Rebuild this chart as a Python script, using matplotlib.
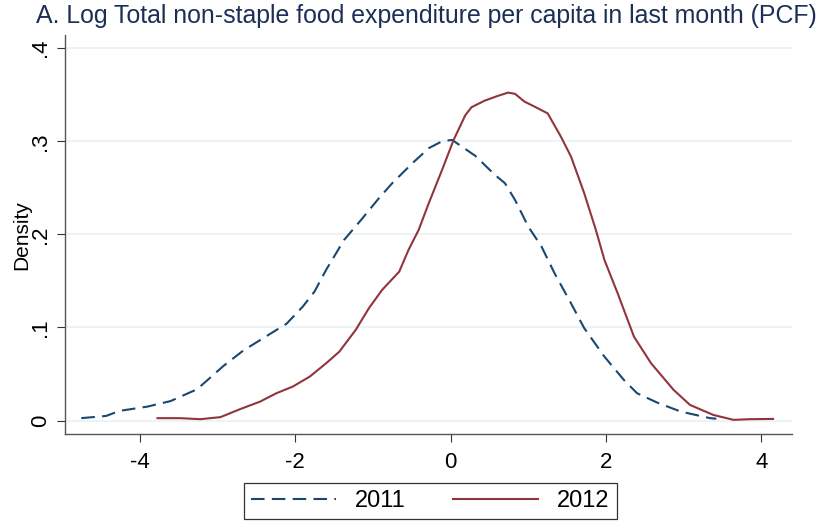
import matplotlib
matplotlib.use("Agg")
import matplotlib.pyplot as plt

# kernel density curves
x11 = [-4.75, -4.43, -4.26, -3.90, -3.60, -3.26, -2.92, -2.67, -2.39, -2.11,
       -1.90, -1.75, -1.60, -1.37, -1.15, -0.92, -0.75, -0.49, -0.28, -0.11,
       0.02, 0.32, 0.57, 0.70, 0.83, 1.00, 1.17, 1.34, 1.55, 1.72,
       1.98, 2.23, 2.40, 2.66, 2.96, 3.34, 3.42]
y11 = [0.0026, 0.005, 0.0104, 0.015, 0.021, 0.0337, 0.0588, 0.075, 0.0896, 0.104,
       0.1225, 0.1386, 0.162, 0.194, 0.2156, 0.239, 0.255, 0.2765, 0.2926, 0.300,
       0.3015, 0.2843, 0.264, 0.255, 0.237, 0.2084, 0.187, 0.158, 0.126, 0.0993,
       0.0687, 0.0437, 0.0294, 0.0193, 0.0097, 0.0026, 0.002]

x12 = [-3.77, -3.48, -3.22, -2.96, -2.71, -2.45, -2.24, -2.03, -1.81, -1.60,
       -1.43, -1.22, -1.05, -0.88, -0.66, -0.54, -0.41, -0.28, -0.11, 0.04,
       0.19, 0.27, 0.44, 0.61, 0.74, 0.83, 0.95, 1.08, 1.25, 1.42,
       1.55, 1.72, 1.87, 1.98, 2.15, 2.36, 2.58, 2.87, 3.08, 3.38,
       3.64, 3.85, 4.15]
y12 = [0.0026, 0.0026, 0.0015, 0.0037, 0.0122, 0.0204, 0.0294, 0.0365, 0.0473, 0.0616,
       0.0741, 0.0974, 0.1207, 0.1404, 0.160, 0.1834, 0.2048, 0.2335, 0.269, 0.3015,
       0.328, 0.3366, 0.3437, 0.3488, 0.3523, 0.351, 0.3427, 0.3373, 0.330, 0.305,
       0.2836, 0.2443, 0.2048, 0.1726, 0.1368, 0.0902, 0.0616, 0.033, 0.0169, 0.0061,
       0.0008, 0.0015, 0.0018]

xticks = [-4, -2, 0, 2, 4]
yticks = [0, 0.1, 0.2, 0.3, 0.4]
ytick_labels = ["0", ".1", ".2", ".3", ".4"]

plt.rcParams['font.family'] = ['Liberation Sans', 'DejaVu Sans']
plt.rcParams['axes.unicode_minus'] = False

fig = plt.figure(figsize=(8.23, 5.25), dpi=100)
ax = fig.add_axes([0.079, 0.173, 0.883, 0.76])

ax.plot(x11, y11, color='#1a476f', lw=1.5, dashes=(6.5, 3.5), label='2011')
ax.plot(x12, y12, color='#90353b', lw=1.5, label='2012')

ax.set_xlim(-4.96, 4.39)
ax.set_ylim(-0.0146, 0.414)
ax.set_xticks(xticks)
ax.set_yticks(yticks)
ax.set_yticklabels(ytick_labels, rotation=90, va='center')
ax.tick_params(labelsize=16, length=6, width=0.8, color='#333333')
ax.tick_params(axis='y', pad=4)
ax.tick_params(axis='x', pad=7)
ax.grid(axis='y', color='#eaf2f3', lw=1.3)
ax.set_axisbelow(True)
for s in ['top', 'right']:
    ax.spines[s].set_visible(False)
for s in ['left', 'bottom']:
    ax.spines[s].set_color('#555555')
    ax.spines[s].set_linewidth(1.0)

ax.set_ylabel('Density', fontsize=15)
ax.yaxis.set_label_coords(-0.047, 0.5)

fig.text(0.044, 1 - 16 / 525, 'A. Log Total non-staple food expenditure per capita in last month (PCF)',
         fontsize=17.9, color='#1c2f56', va='center', ha='left')

leg = fig.legend(loc='center', bbox_to_anchor=(0.523, 0.0457), ncol=2, fontsize=17,
                 frameon=True, fancybox=False, edgecolor='black', handlelength=3.6,
                 handletextpad=0.8, columnspacing=2.0, borderpad=0.3)
leg.get_frame().set_linewidth(0.9)

fig.savefig('out.png', dpi=100, facecolor='white')
